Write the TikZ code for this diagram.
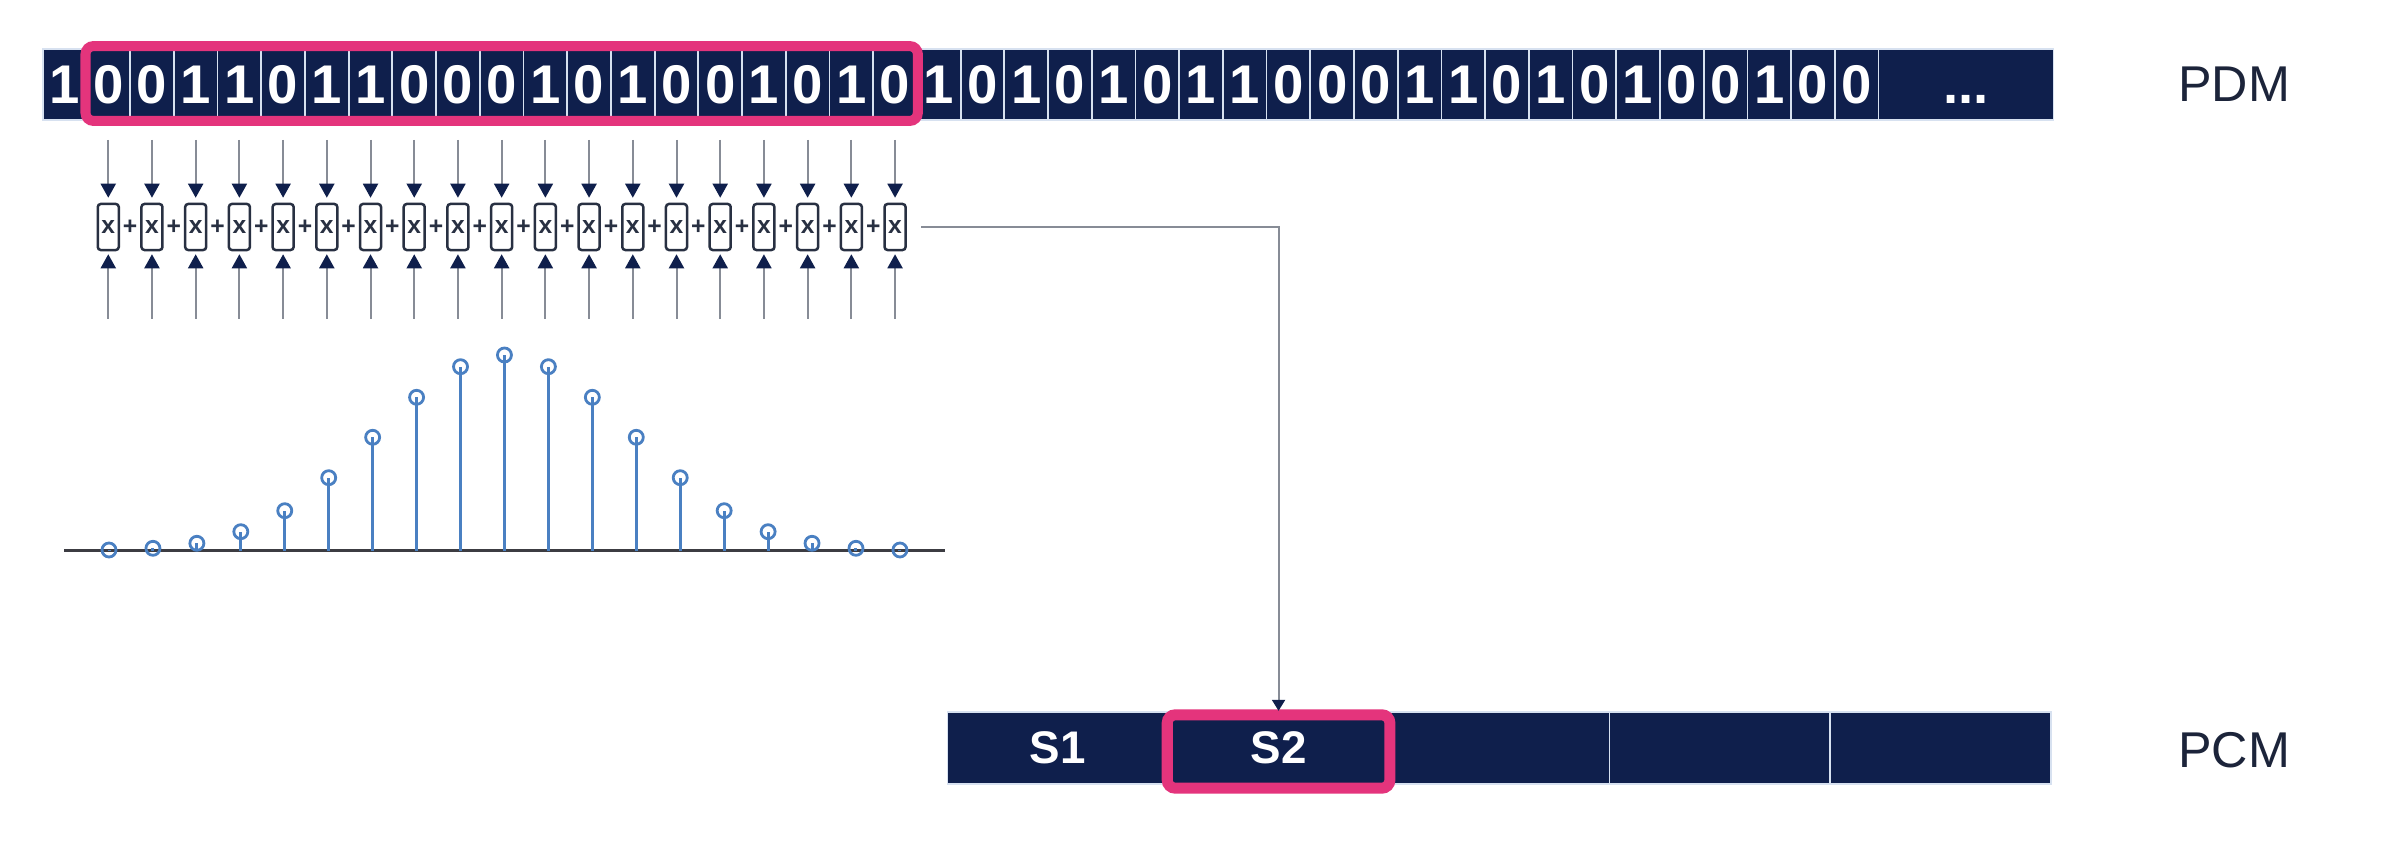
\documentclass[tikz,border=0pt]{standalone}
\usepackage{fontspec}
\setmainfont{Liberation Sans}
\usetikzlibrary{arrows.meta}
\definecolor{navy}{RGB}{15,31,76}
\definecolor{hot}{RGB}{228,52,124}
\definecolor{sepc}{RGB}{215,225,240}
\definecolor{shaft}{RGB}{135,140,150}
\definecolor{stemblue}{RGB}{74,128,194}
\definecolor{lblc}{RGB}{28,36,58}
\definecolor{boxline}{RGB}{40,48,66}
\definecolor{basec}{RGB}{60,60,66}
\begin{document}
\begin{tikzpicture}[x=0.01cm,y=-0.01cm,
  bit/.style={fill=navy, draw=sepc, line width=0.018cm, text=white, minimum width=0.437cm, minimum height=0.71cm, inner sep=0pt, font=\fontsize{15.5}{18}\selectfont\bfseries},
  pcmcell/.style={fill=navy, draw=sepc, line width=0.018cm, text=white, minimum width=2.207cm, minimum height=0.725cm, inner sep=0pt, font=\fontsize{13}{15}\selectfont\bfseries},
  mult/.style={draw=boxline, line width=0.025cm, rounded corners=0.03cm, minimum width=0.21cm, minimum height=0.46cm, inner sep=0pt, text=boxline, font=\fontsize{7}{8}\selectfont\bfseries},
  plus/.style={inner sep=0pt, text=boxline, font=\fontsize{7}{8}\selectfont\bfseries},
  downarr/.style={draw=shaft, line width=0.02cm, -{Triangle[length=0.14cm,width=0.15cm,color=navy]}, shorten >=0.05cm},
  uparr/.style={draw=shaft, line width=0.02cm, -{Triangle[length=0.14cm,width=0.15cm,color=navy]}, shorten >=0.03cm},
  conn/.style={draw=shaft, line width=0.02cm, -{Triangle[length=0.11cm,width=0.13cm,color=navy]}, shorten <=0.145cm},
  hotbox/.style={draw=hot, line width=0.1cm, rounded corners=0.08cm},
  stemdot/.style={circle, draw=stemblue, line width=0.028cm, minimum size=0.14cm, inner sep=0pt},
  stemline/.style={draw=stemblue, line width=0.03cm},
  lbl/.style={text=lblc, inner sep=0pt, font=\fontsize{14.3}{16}\selectfont}
]
\useasboundingbox (0,0) rectangle (2400,864);
\fill[white] (0,0) rectangle (2400,864);

% PDM bit stream
\foreach \d [count=\k from 0] in {1,0,0,1,1,0,1,1,0,0,0,1,0,1,0,0,1,0,1,0,1,0,1,0,1,0,1,1,0,0,0,1,1,0,1,0,1,0,0,1,0,0}
  \node[bit] (c\k) at ({42.7+43.71*(\k+0.5)}, 84.5) {\d};
\node[bit, minimum width=1.748cm] (cdots) at ({42.7+43.71*44}, 84.5) {\vphantom{0}...};
\draw[hotbox] ([yshift=0.02cm]c1.north west) rectangle (c19.south east);
\node[lbl] (pdm) at (2234, 84) {PDM};

% multiplier boxes
\foreach \k in {1,...,19}
  \node[mult] (m\k) at ({42.7+43.71*(\k+0.5)}, 227) {x};
\foreach \k in {1,...,18}
  \node[plus] (pl\k) at ({42.7+43.71*(\k+1)}, 227) {+};

% arrows
\foreach \k in {1,...,19} {
  \coordinate (dt\k) at ({42.7+43.71*(\k+0.5)}, 140);
  \draw[downarr] (dt\k) -- (m\k.north);
  \coordinate (ut\k) at ({42.7+43.71*(\k+0.5)}, 319);
  \draw[uparr] (ut\k) -- (m\k.south);
}

% stem plot
\coordinate (bl) at (64,550.5);
\coordinate (br) at (945,550.5);
\draw[draw=basec, line width=0.03cm] (bl) -- (br);
\foreach \h [count=\k] in {550,548.3,543.3,531.7,510.7,477.7,437.3,397.3,366.7,355,366.7,397.3,437.3,477.7,510.7,531.7,543.3,548.3,550} {
  \coordinate (sb\k) at ({109+43.94*(\k-1)}, 550.5);
  \node[stemdot] (sd\k) at ({109+43.94*(\k-1)}, \h) {};
  \draw[stemline] (sb\k) -- (sd\k.center);
}

% PCM stream
\foreach \lab [count=\k] in {S1,S2,{},{},{}}
  \node[pcmcell] (s\k) at ({947.5+220.7*(\k-0.5)}, 748) {\lab};
\draw[hotbox, line width=0.11cm] ([yshift=-0.04cm]s2.north west) rectangle ([yshift=-0.03cm]s2.south east);
\node[lbl] (pcm) at (2234, 750) {PCM};

% connector
\draw[conn] (m19.east) -| (s2.north);
\end{tikzpicture}
\end{document}
